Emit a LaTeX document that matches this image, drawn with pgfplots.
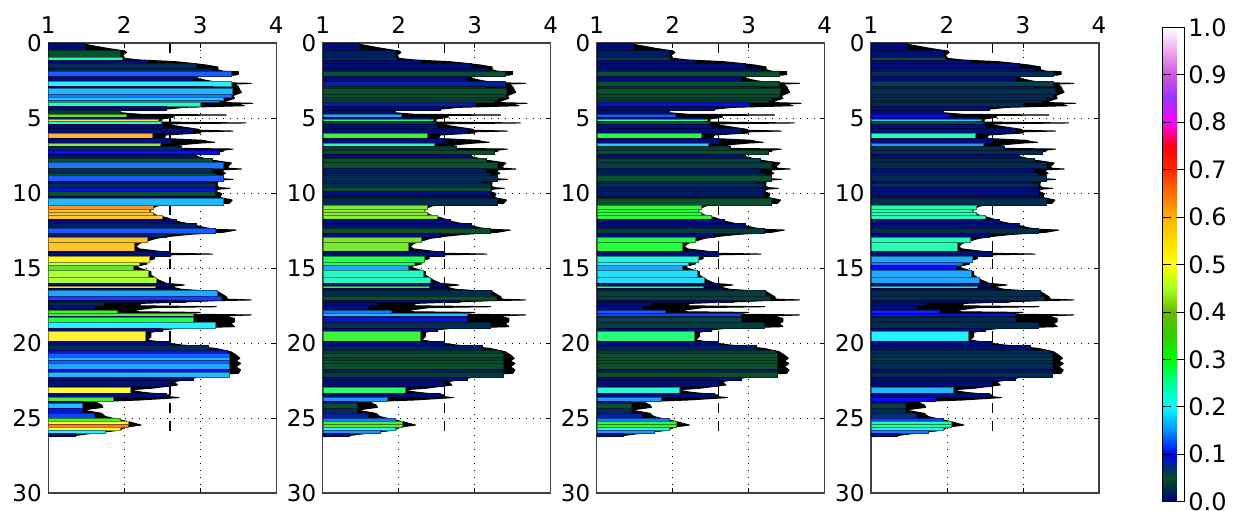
\documentclass[border=0pt]{standalone}
\usepackage{fontspec}
\setmainfont{DejaVu Sans}
\usepackage{pgfplots}
\usepackage{pgfplotstable}
\pgfplotsset{compat=1.18}
% ya yb: layer edges, v: bar end, c1..c4: value in each panel
\pgfplotstableread{
ya yb v c1 c2 c3 c4
0.00 0.45 1.48 .01 .01 .01 .01
0.45 0.95 1.95 .05 .02 .02 .01
0.95 1.15 1.97 .24 .03 .04 .05
1.15 1.35 2.30 .01 .01 .01 .01
1.35 1.70 2.95 .03 .01 .01 .01
1.70 1.90 3.15 .02 .01 .01 .01
1.90 2.20 3.40 .13 .05 .05 .03
2.20 2.55 2.90 .01 .01 .01 .01
2.55 2.85 3.40 .20 .08 .05 .06
2.85 3.00 3.15 .01 .03 .03 .02
3.00 3.40 3.42 .17 .05 .05 .03
3.40 3.62 3.40 .14 .05 .05 .03
3.62 3.78 3.30 .18 .04 .04 .03
3.78 3.95 3.25 .14 .05 .05 .03
3.95 4.20 3.00 .23 .08 .09 .03
4.20 4.45 2.55 .01 .01 .01 .01
4.45 4.72 1.95 .04 .01 .01 .01
4.75 4.95 2.03 .38 .16 .13 .10
4.95 5.05 2.40 .01 .01 .01 .01
5.05 5.22 2.45 .55 .28 .25 .18
5.22 5.42 2.48 .22 .04 .05 .05
5.42 5.70 2.50 .01 .01 .01 .01
5.70 6.02 2.90 .01 .01 .01 .01
6.02 6.36 2.37 .60 .33 .30 .24
6.36 6.65 2.60 .01 .01 .01 .01
6.65 6.87 2.47 .42 .24 .18 .15
6.87 7.13 2.75 .03 .04 .04 .03
7.13 7.38 3.25 .10 .05 .05 .03
7.38 7.70 2.95 .01 .01 .01 .01
7.70 7.95 3.15 .05 .05 .04 .03
7.95 8.36 3.30 .14 .05 .04 .03
8.36 8.69 3.15 .03 .02 .02 .01
8.69 8.84 3.20 .05 .03 .03 .03
8.84 9.18 3.30 .13 .03 .05 .03
9.18 9.36 3.10 .01 .03 .03 .01
9.36 9.62 3.20 .03 .03 .03 .03
9.62 9.90 3.20 .09 .05 .02 .01
9.90 10.24 3.20 .05 .01 .02 .01
10.24 10.36 3.22 .01 .01 .01 .01
10.36 10.80 3.30 .17 .03 .05 .03
10.84 11.07 2.38 .63 .42 .31 .25
11.07 11.30 2.33 .58 .42 .30 .24
11.30 11.50 2.38 .58 .42 .30 .24
11.50 11.76 2.50 .58 .42 .30 .24
11.76 12.00 2.68 .01 .01 .01 .01
12.00 12.36 2.95 .02 .01 .01 .01
12.36 12.70 3.20 .13 .05 .04 .03
12.70 12.96 2.55 .02 .01 .01 .01
12.96 13.30 2.30 .58 .41 .30 .24
13.30 13.90 2.13 .58 .41 .30 .24
13.90 14.18 2.60 .01 .01 .01 .01
14.18 14.58 2.33 .52 .29 .22 .16
14.58 14.80 2.20 .47 .28 .20 .14
14.80 15.13 2.12 .37 .16 .16 .10
15.13 15.60 2.32 .45 .23 .19 .16
15.60 16.02 2.42 .45 .23 .19 .16
16.02 16.20 2.60 .01 .01 .01 .01
16.20 16.36 2.40 .55 .30 .26 .19
16.36 16.50 2.65 .01 .01 .01 .01
16.50 16.87 3.22 .16 .03 .04 .03
16.87 17.13 3.28 .12 .05 .04 .03
17.13 17.25 2.80 .01 .01 .01 .01
17.25 17.50 1.72 .03 .01 .01 .01
17.50 17.76 1.60 .01 .01 .01 .01
17.78 18.00 1.90 .33 .14 .13 .11
18.00 18.18 2.90 .36 .17 .12 .10
18.18 18.30 2.90 .09 .08 .04 .03
18.30 18.64 2.90 .30 .09 .06 .03
18.64 19.04 3.20 .20 .03 .04 .03
19.04 19.20 2.50 .01 .01 .01 .01
19.20 19.90 2.28 .52 .32 .27 .20
19.90 20.15 2.60 .01 .01 .01 .01
20.15 20.45 3.10 .03 .02 .02 .01
20.45 20.70 3.35 .09 .04 .04 .03
20.70 20.95 3.38 .13 .05 .05 .03
20.95 21.17 3.38 .17 .04 .05 .04
21.17 21.35 3.38 .13 .05 .05 .03
21.35 21.75 3.38 .16 .05 .05 .03
21.75 21.93 3.38 .10 .02 .02 .01
21.93 22.25 3.38 .17 .04 .05 .03
22.25 22.45 2.90 .01 .01 .01 .01
22.45 22.90 2.60 .01 .01 .01 .01
22.96 23.36 2.08 .50 .28 .22 .17
23.36 23.60 2.55 .01 .01 .01 .01
23.60 23.90 1.85 .33 .15 .15 .10
23.90 24.02 1.45 .01 .01 .01 .01
24.02 24.36 1.45 .17 .05 .05 .04
24.36 24.70 1.45 .09 .03 .03 .03
24.70 25.02 1.60 .12 .08 .08 .07
25.02 25.20 1.95 .33 .14 .14 .12
25.20 25.42 2.05 .50 .33 .30 .25
25.42 25.58 2.05 .65 .37 .33 .25
25.58 25.80 1.95 .50 .20 .22 .20
25.80 26.02 1.75 .20 .15 .15 .14
26.02 26.24 1.35 .01 .01 .01 .01
}\bars
% black outline of the profile: t is the tip, y the depth
\pgfplotstableread{
t y
1.00 0.00
1.42 0.00
1.53 0.13
1.78 0.36
2.00 0.53
2.03 0.62
1.98 0.80
2.00 1.02
2.20 1.13
2.66 1.24
2.84 1.33
3.08 1.47
3.23 1.60
3.23 1.78
3.30 1.88
3.50 1.91
3.50 2.09
3.45 2.14
2.97 2.24
2.95 2.36
3.10 2.51
3.25 2.64
3.67 2.69
3.45 2.74
3.50 2.91
3.52 3.13
3.54 3.29
3.43 3.51
3.45 3.69
3.36 3.84
3.30 3.97
3.69 4.02
3.45 4.07
3.58 4.18
2.79 4.29
2.57 4.40
1.70 4.53
2.05 4.69
2.20 4.75
3.34 4.80
2.30 4.85
2.66 4.93
2.49 5.07
2.49 5.27
3.60 5.33
2.60 5.39
2.60 5.47
2.97 5.75
3.00 5.82
3.43 5.87
3.00 5.92
3.00 6.00
2.55 6.13
2.52 6.36
3.05 6.49
3.10 6.57
3.19 6.62
3.00 6.67
2.80 6.76
2.60 6.91
2.70 7.02
3.43 7.07
3.30 7.15
3.30 7.24
2.75 7.38
2.90 7.50
3.14 7.80
3.41 8.00
3.36 8.24
3.38 8.35
3.54 8.40
3.32 8.45
3.28 8.53
3.33 8.69
3.23 8.90
3.25 9.04
3.43 9.09
3.25 9.14
3.23 9.24
3.22 9.50
3.25 9.64
3.39 9.69
3.25 9.74
3.19 9.87
3.28 10.04
3.26 10.30
3.42 10.47
3.38 10.69
2.55 10.78
2.43 10.87
2.37 11.02
2.33 11.24
2.42 11.47
2.55 11.64
2.70 11.90
2.92 12.13
3.06 12.31
3.20 12.42
3.47 12.47
3.30 12.62
2.85 12.76
2.60 12.89
2.42 13.02
2.20 13.36
2.15 13.58
2.20 13.73
2.50 13.91
2.60 14.02
3.16 14.07
2.60 14.12
2.40 14.22
2.40 14.38
2.27 14.56
2.30 14.73
2.16 14.89
2.20 15.02
2.35 15.24
2.35 15.47
2.45 15.80
2.55 16.02
2.79 16.13
2.60 16.24
2.75 16.42
3.23 16.58
3.34 16.91
3.36 17.08
3.67 17.13
3.20 17.18
2.90 17.24
2.22 17.36
2.20 17.52
3.21 17.58
2.40 17.64
2.10 17.84
2.20 17.92
3.00 17.96
2.60 18.02
2.90 18.08
3.67 18.13
3.30 18.20
3.45 18.36
3.45 18.58
3.40 18.69
3.45 18.91
2.70 19.02
2.50 19.13
2.35 19.29
2.35 19.58
2.30 19.80
2.50 19.96
2.75 20.13
3.20 20.36
3.40 20.58
3.47 20.80
3.52 21.02
3.47 21.20
3.53 21.36
3.47 21.58
3.53 21.80
3.50 22.02
3.10 22.13
2.90 22.36
2.65 22.58
2.70 22.80
2.35 23.02
2.05 23.13
2.25 23.29
2.60 23.47
2.60 23.58
2.72 23.64
2.20 23.80
1.60 23.91
1.70 24.13
1.72 24.29
1.45 24.47
1.70 24.69
1.75 24.90
1.85 25.02
2.05 25.24
2.22 25.47
2.00 25.62
1.95 25.80
1.70 25.96
1.50 26.07
1.30 26.20
1.00 26.24
}\tips
\pgfplotsset{
  colormap={ncar}{
    rgb255(0)=(0,0,128)
    rgb255(1)=(0,40,80)
    rgb255(2)=(0,78,32)
    rgb255(3)=(0,40,130)
    rgb255(4)=(0,0,255)
    rgb255(6)=(0,144,255)
    rgb255(8)=(0,255,255)
    rgb255(10)=(0,255,153)
    rgb255(12)=(0,255,0)
    rgb255(14)=(50,204,0)
    rgb255(16)=(102,187,0)
    rgb255(18)=(170,255,34)
    rgb255(20)=(255,255,0)
    rgb255(22)=(255,221,0)
    rgb255(24)=(255,176,0)
    rgb255(26)=(255,112,0)
    rgb255(28)=(255,40,0)
    rgb255(30)=(255,0,16)
    rgb255(32)=(255,0,255)
    rgb255(34)=(153,51,255)
    rgb255(36)=(204,85,221)
    rgb255(38)=(238,170,238)
    rgb255(40)=(255,255,255)
  },
  colormap={ncarbar}{
    rgb255(0)=(0,0,135)
    rgb255(1)=(0,35,90)
    rgb255(2)=(10,80,45)
    rgb255(3)=(0,40,135)
    rgb255(4)=(10,10,255)
    rgb255(6)=(30,150,255)
    rgb255(8)=(40,240,255)
    rgb255(10)=(38,255,160)
    rgb255(12)=(40,255,60)
    rgb255(14)=(90,230,50)
    rgb255(16)=(110,225,45)
    rgb255(18)=(175,255,60)
    rgb255(20)=(255,255,50)
    rgb255(22)=(255,225,40)
    rgb255(24)=(255,180,45)
    rgb255(26)=(255,125,40)
    rgb255(40)=(255,255,255)
  },
  panel/.style={
    colormap name=ncarbar,
    anchor=south west, scale only axis, width=228pt, height=450pt,
    xmin=1, xmax=4, ymin=0, ymax=30, y dir=reverse,
    xtick={1,2,3,4}, ytick={0,5,...,30},
    xticklabel pos=upper,
    tick align=inside, major tick length=5pt, tick style={black, line width=.7pt},
    grid=major, grid style={black, line width=.7pt, dash pattern=on 1pt off 6pt},
    axis line style={black!75, line width=1.1pt},
    axis on top,
    tick label style={font=\fontsize{23}{23}\selectfont},
    /pgf/number format/assume math mode=true,
    xticklabel style={yshift=6pt}, yticklabel style={xshift=-3pt},
    point meta min=0, point meta max=1,
  },
  barlayer/.style={
    scatter, only marks, mark=*, mark size=0pt,
    mark options={draw=none, fill=none},
    point meta=explicit,
    visualization depends on={\thisrow{v}-1 \as \barlen},
    visualization depends on={\thisrow{yb}-\thisrow{ya} \as \barhgt},
    scatter/@pre marker code/.code={%
      \pgfplotscolormapdefinemappedcolor{\pgfplotspointmetatransformed}%
      \filldraw[fill=mapped color, draw=mapped color!55!black, line width=.3pt]
        (axis direction cs:-\barlen,0) rectangle (axis direction cs:0,-\barhgt);
      \scope
    },
    scatter/@post marker code/.code={\endscope},
  },
  tipcurve/.style={fill=black, draw=black, line width=1pt, line join=round, mark=none},
  midline/.style={black, line width=1.5pt, dash pattern=on 10pt off 8pt, mark=none},
}
\begin{document}
\begin{tikzpicture}[x=1pt,y=1pt]
\path[use as bounding box] (0,0) rectangle (1240,511);
\begin{axis}[panel, at={(48.3pt,18pt)}]
\addplot[tipcurve] table[x=t,y=y] {\tips} -- cycle;
\addplot[barlayer] table[x=v,y=yb,meta=c1] {\bars};
\addplot[midline] coordinates {(2.6,0) (2.6,26)};
\end{axis}
\begin{axis}[panel, at={(322.7pt,18pt)}]
\addplot[tipcurve] table[x=t,y=y] {\tips} -- cycle;
\addplot[barlayer] table[x=v,y=yb,meta=c2] {\bars};
\addplot[midline] coordinates {(2.6,0) (2.6,26)};
\end{axis}
\begin{axis}[panel, at={(596.7pt,18pt)}]
\addplot[tipcurve] table[x=t,y=y] {\tips} -- cycle;
\addplot[barlayer] table[x=v,y=yb,meta=c3] {\bars};
\addplot[midline] coordinates {(2.6,0) (2.6,26)};
\end{axis}
\begin{axis}[panel, at={(871pt,18pt)},
  colorbar,
  colorbar style={
    colormap name=ncar,
    anchor=north west,
    at={(parent axis.north east)}, xshift=54.7pt, yshift=15.7pt,
    scale only axis, width=22.6pt, height=474.4pt,
    ytick={0,0.1,...,1.01},
    yticklabel pos=right,
    tick align=inside, major tick length=9pt,
    tick style={black, line width=.7pt},
    axis line style={black, line width=1.3pt},
    yticklabel style={xshift=0pt, font=\fontsize{24}{24}\selectfont, /pgf/number format/.cd, fixed, fixed zerofill, precision=1, assume math mode=true},
  }]
\addplot[tipcurve] table[x=t,y=y] {\tips} -- cycle;
\addplot[barlayer] table[x=v,y=yb,meta=c4] {\bars};
\addplot[midline] coordinates {(2.6,0) (2.6,26)};
\end{axis}
\end{tikzpicture}
\end{document}
